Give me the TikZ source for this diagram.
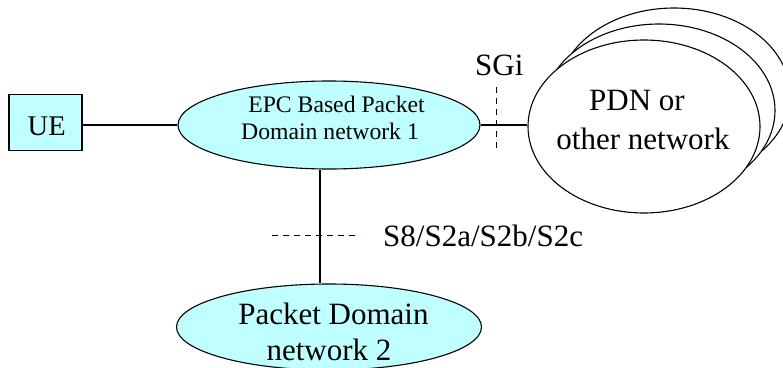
\documentclass[tikz,border=0pt]{standalone}
\usepackage{fontspec}
\setmainfont{Liberation Serif}
\usetikzlibrary{shapes.geometric}
\definecolor{netfill}{RGB}{192,255,255}
\begin{document}
\begin{tikzpicture}[x=1pt,y=-1pt,
  conn/.style={line width=1.2pt},
  iface/.style={line width=0.8pt, dash pattern=on 6pt off 5pt},
  cloud/.style={ellipse, draw, line width=1.1pt, fill=netfill, inner sep=0pt},
  pdnshape/.style={ellipse, draw, line width=1.1pt, fill=white, inner sep=0pt,
                   minimum width=232pt, minimum height=173pt},
  boxnode/.style={draw, fill=netfill, line width=1.1pt, inner sep=0pt},
  lbl/.style={font=\fontsize{31}{36}\selectfont, inner sep=0pt, anchor=base},
  small/.style={lbl, font=\fontsize{23.7}{27}\selectfont}]
\useasboundingbox (0,0) rectangle (783,367);
\clip (0,0) rectangle (783,367);

% PDN stack
\node[pdnshape] (pdnC) at (674,94.5) {};
\node[pdnshape] (pdnB) at (659,110.5) {};
\node[pdnshape] (pdn) at (644,126.5) {};

% networks
\node[cloud, minimum width=302pt, minimum height=88pt] (epc) at (329,125) {};
\node[cloud, minimum width=305pt, minimum height=86pt] (pd2) at (329,327) {};
\node[boxnode, minimum width=73pt, minimum height=56.5pt] (ue) at (45.5,122.5) {};

% connectors
\draw[conn] (ue.east |- epc.west) -- (epc.west);
\draw[conn] (epc.east) -- (epc.east -| pdn.west);
\coordinate (vx) at (320,0);
\draw[conn] (vx |- epc.south) -- (vx |- pd2.north);

% interface markers
\coordinate (sgiT) at (496,87);
\coordinate (sgiB) at (496,152);
\draw[iface] (sgiT) -- (sgiB);
\coordinate (s8L) at (272,235.7);
\coordinate (s8R) at (360,235.7);
\draw[iface] (s8L) -- (s8R);

% texts
\node[lbl, font=\fontsize{28.5}{30}\selectfont] (uet) at (46.7,135) {UE};
\node[small] (epc1) at (336.5,112) {EPC Based Packet};
\node[small] (epc2) at (330,139) {Domain network 1};
\node[lbl] (pdn1) at (637,110.7) {PDN or};
\node[lbl] (pdn2) at (643,149.3) {other network};
\node[lbl] (pd2a) at (333.4,324.3) {Packet Domain};
\node[lbl] (pd2b) at (329,360) {network 2};
\node[lbl, anchor=base west] (sgi) at (475,75) {SGi};
\node[lbl, anchor=base west] (s8) at (383,246.7) {S8/S2a/S2b/S2c};
\end{tikzpicture}
\end{document}
